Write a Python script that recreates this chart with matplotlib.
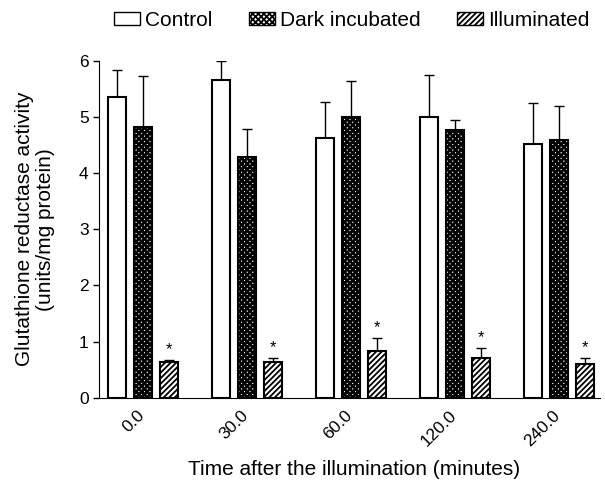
import numpy as np
import matplotlib.pyplot as plt
from matplotlib.patches import Patch

plt.rcParams['font.family'] = ['Liberation Sans', 'DejaVu Sans']
plt.rcParams['hatch.linewidth'] = 1.3

times = ['0.0', '30.0', '60.0', '120.0', '240.0']
control = [5.35, 5.65, 4.62, 4.99, 4.52]
control_err = [0.49, 0.34, 0.65, 0.75, 0.72]
dark = [4.82, 4.29, 4.99, 4.76, 4.58]
dark_err = [0.91, 0.50, 0.65, 0.18, 0.62]
illum = [0.63, 0.63, 0.84, 0.70, 0.60]
illum_err = [0.05, 0.08, 0.23, 0.19, 0.11]

fig = plt.figure(figsize=(6.05, 4.83), dpi=100)
ax = fig.add_axes([0.1636, 0.1766, 0.828, 0.6977])

x = np.arange(len(times))
w = 0.173
series = [
    (control, control_err, -0.25, '', 1.3, 'Control'),
    (dark, dark_err, 0.0, 'xxxxxx', 1.9, 'Dark incubated'),
    (illum, illum_err, 0.25, '//////', 1.3, 'Illuminated'),
]
handles = []
for vals, err, off, hatch, hlw, label in series:
    with plt.rc_context({'hatch.linewidth': hlw}):
        ax.bar(x + off, vals, width=w, facecolor='white', edgecolor='black',
               hatch=hatch, linewidth=1.5, zorder=2)
        handles.append(Patch(facecolor='white', edgecolor='black', hatch=hatch,
                             linewidth=1.0, label=label))
    ax.errorbar(x + off, vals, yerr=[np.zeros(len(vals)), err], fmt='none',
                ecolor='black', elinewidth=1.0, capsize=3.6, capthick=1.0, zorder=1)

for xi, v, e in zip(x + 0.25, illum, illum_err):
    ax.text(xi, v + e + 0.04, '*', ha='center', va='bottom', fontsize=12)

ax.set_xlim(-0.423, 4.394)
ax.set_ylim(0, 6)
ax.set_yticks(range(7))
ax.set_xticks(x - 0.06)
ax.set_xticklabels(times, rotation=45, ha='right', rotation_mode='anchor')
ax.tick_params(axis='x', length=0, pad=7, labelsize=12.5)
ax.tick_params(axis='y', length=4, width=1, direction='out', labelsize=12.5)
ax.spines['top'].set_visible(False)
ax.spines['right'].set_visible(False)
ax.set_ylabel('Glutathione reductase activity\n(units/mg protein)', fontsize=15,
              ha='center', va='center', linespacing=1.15)
ax.yaxis.set_label_coords(-0.127, 0.5)
ax.set_xlabel('Time after the illumination (minutes)', fontsize=15)
ax.xaxis.set_label_coords(0.51, -0.185)

fig.legend(handles=handles, loc='center left', bbox_to_anchor=(0.1884, 0.958), ncol=3,
           frameon=False, fontsize=15, handlelength=1.25, handleheight=0.62,
           handletextpad=0.24, columnspacing=1.75, borderaxespad=0, borderpad=0)

fig.savefig('out.png', dpi=100)
